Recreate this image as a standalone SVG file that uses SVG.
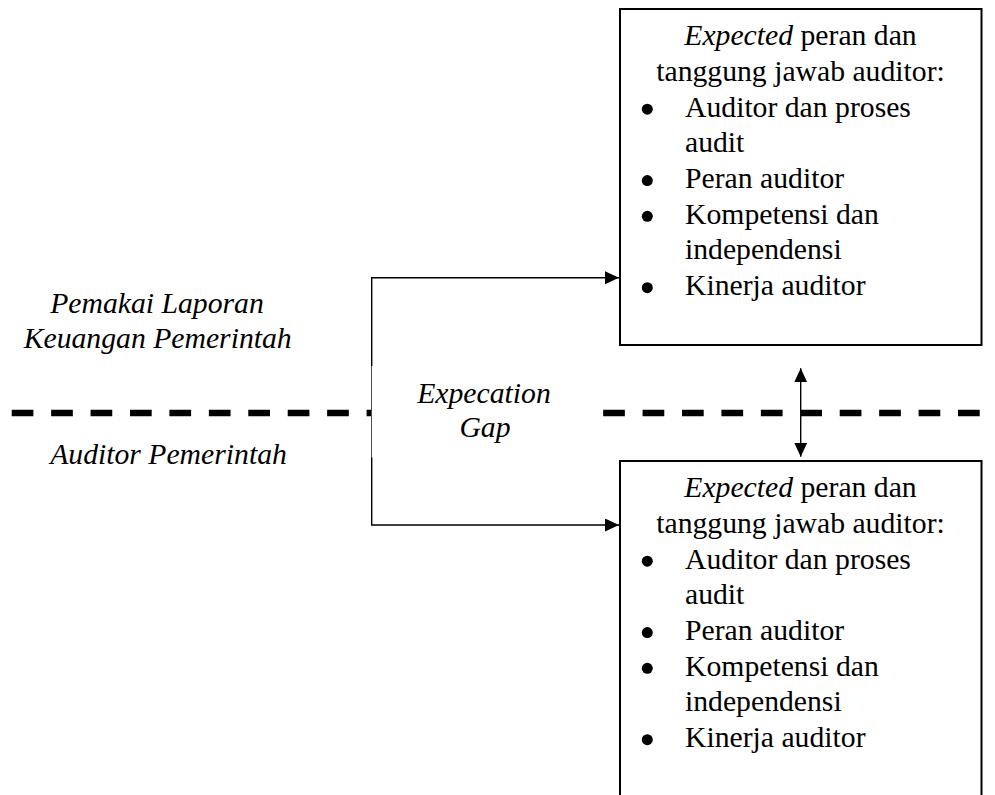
<svg xmlns="http://www.w3.org/2000/svg" width="995" height="795" viewBox="0 0 995 795">
<style>
  text { font-family: "Liberation Serif", "Times New Roman", serif; font-size: 29.7px; fill: #000; }
  .it { font-style: italic; }
  .c { text-anchor: middle; }
  .bul { fill: #000; }
  .box { fill: #fff; stroke: #000; stroke-width: 2; }
  .conn { fill: none; stroke: #000; stroke-width: 1.4; }
  .dash { fill: none; stroke: #000; stroke-width: 6.5; stroke-dasharray: 21.7 17.73; }
</style>
<defs>
  <marker id="arr" markerUnits="userSpaceOnUse" markerWidth="15" markerHeight="14" refX="14" refY="6.5" orient="auto-start-reverse">
    <path d="M0,0 L14,6.5 L0,13 Z" fill="#000"/>
  </marker>
</defs>
<rect width="995" height="795" fill="#fff"/>

<line class="dash" x1="11.7" y1="413" x2="981.7" y2="413"/>

<g id="connectors">
  <path class="conn" d="M371.7,401 V277.7 H619" marker-end="url(#arr)"/>
  <path class="conn" d="M371.7,401 V525 H619" marker-end="url(#arr)"/>
  <path class="conn" d="M800.7,368.3 V456.7" marker-start="url(#arr)" marker-end="url(#arr)"/>
</g>

<g id="gap-label">
  <rect x="371.7" y="366" width="231.3" height="91.5" fill="#fff"/>
  <text class="it c" x="484" y="402.7">Expecation</text>
  <text class="it c" x="485" y="436.7">Gap</text>
</g>

<g id="label-users">
  <text class="it c" x="157" y="313.3">Pemakai Laporan</text>
  <text class="it c" x="157.7" y="348.3">Keuangan Pemerintah</text>
</g>

<g id="label-auditor">
  <text class="it c" x="168.5" y="464.3">Auditor Pemerintah</text>
</g>

<g id="box-top">
  <rect class="box" x="620" y="9" width="361.5" height="336"/>
  <text class="c" x="800.5" y="45"><tspan class="it">Expected</tspan> peran dan</text>
  <text class="c" x="800.5" y="80.7">tanggung jawab auditor:</text>
  <circle class="bul" cx="647.3" cy="109.2" r="5.5"/>
  <text x="685" y="116.6">Auditor dan proses</text>
  <text x="685" y="152.3">audit</text>
  <circle class="bul" cx="647.3" cy="180.6" r="5.5"/>
  <text x="685" y="188">Peran auditor</text>
  <circle class="bul" cx="647.3" cy="216.3" r="5.5"/>
  <text x="685" y="223.7">Kompetensi dan</text>
  <text x="685" y="259.4">independensi</text>
  <circle class="bul" cx="647.3" cy="287.7" r="5.5"/>
  <text x="685" y="295.1">Kinerja auditor</text>
</g>

<g id="box-bottom">
  <rect class="box" x="620" y="461" width="361.5" height="345"/>
  <text class="c" x="800.5" y="497"><tspan class="it">Expected</tspan> peran dan</text>
  <text class="c" x="800.5" y="532.7">tanggung jawab auditor:</text>
  <circle class="bul" cx="647.3" cy="561.2" r="5.5"/>
  <text x="685" y="568.6">Auditor dan proses</text>
  <text x="685" y="604.3">audit</text>
  <circle class="bul" cx="647.3" cy="632.6" r="5.5"/>
  <text x="685" y="640">Peran auditor</text>
  <circle class="bul" cx="647.3" cy="668.3" r="5.5"/>
  <text x="685" y="675.7">Kompetensi dan</text>
  <text x="685" y="711.4">independensi</text>
  <circle class="bul" cx="647.3" cy="739.7" r="5.5"/>
  <text x="685" y="747.1">Kinerja auditor</text>
</g>
</svg>
